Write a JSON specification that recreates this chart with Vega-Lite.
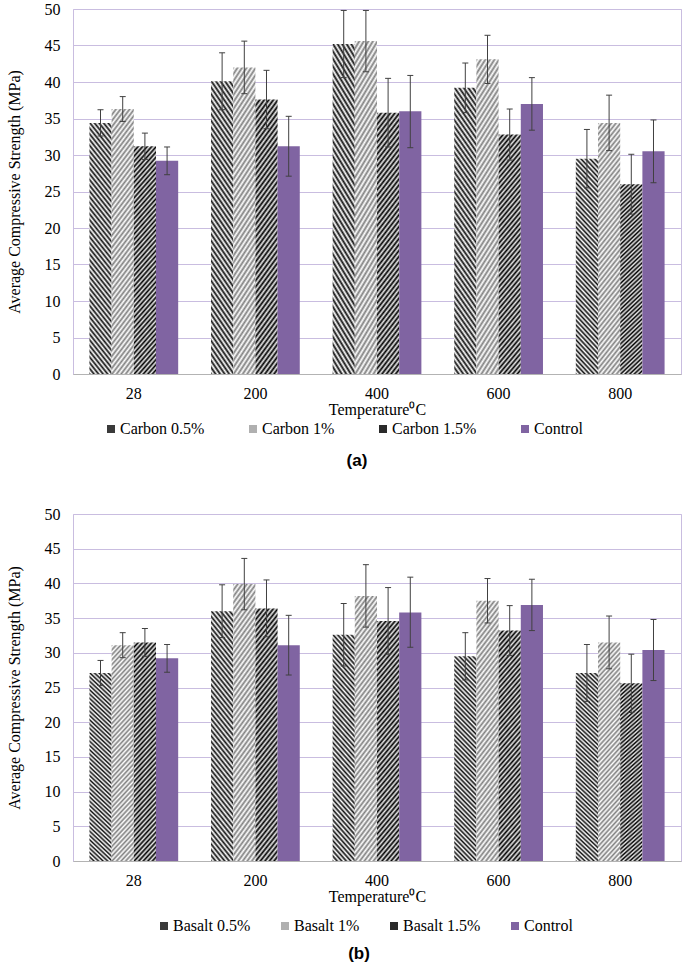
{
"$schema": "https://vega.github.io/schema/vega-lite/v6.json",
"padding": {"left": 5, "top": 0, "right": 0, "bottom": 0},
"spacing": 35,
"resolve": {"scale": {"x": "independent", "xOffset": "independent", "y": "independent", "color": "independent"}, "legend": {"color": "independent"}},
"config": {
 "view": {"stroke": "#c9bde0", "strokeWidth": 1},
 "font": "Liberation Serif",
 "style": {"guide-label": {"font": "Liberation Serif", "fontSize": 16, "fill": "#000"}, "guide-title": {"font": "Liberation Serif", "fontSize": 16, "fill": "#000", "fontWeight": "normal"}},
 "axis": {"labelFont": "Liberation Serif", "labelFontSize": 16, "labelColor": "#000", "titleFont": "Liberation Serif", "titleFontSize": 16, "titleFontWeight": "normal", "titleColor": "#000", "ticks": false, "gridColor": "#c9bde0", "gridOpacity": 1},
 "axisY": {"domain": false, "labelPadding": 13, "titlePadding": 22},
 "axisX": {"domainColor": "#b3b3b3", "labelAngle": 0, "labelPadding": 11, "titlePadding": 0, "grid": false},
 "legend": {"orient": "none", "direction": "horizontal", "columns": 4, "labelFont": "Liberation Serif", "labelFontSize": 16, "labelColor": "#000", "symbolType": "square", "symbolSize": 64, "symbolStrokeWidth": 0, "symbolOpacity": 1, "labelOffset": 1, "labelLimit": 200},
 "title": {"font": "Liberation Sans", "fontSize": 17, "fontWeight": "bold", "color": "#000"}
},
"vconcat": [
 {
  "width": 608, "height": 365,
  "title": {"text": "(a)", "orient": "bottom", "anchor": "middle", "offset": 16, "dx": -20},
  "data": {"values": [
   {"t":28,"s":"Carbon 0.5%","v":34.4,"lo":32.6,"hi":36.2},
   {"t":28,"s":"Carbon 1%","v":36.3,"lo":34.6,"hi":38.0},
   {"t":28,"s":"Carbon 1.5%","v":31.2,"lo":29.4,"hi":33.0},
   {"t":28,"s":"Control","v":29.2,"lo":27.3,"hi":31.1},
   {"t":200,"s":"Carbon 0.5%","v":40.1,"lo":36.2,"hi":44.0},
   {"t":200,"s":"Carbon 1%","v":42.0,"lo":38.4,"hi":45.6},
   {"t":200,"s":"Carbon 1.5%","v":37.6,"lo":33.6,"hi":41.6},
   {"t":200,"s":"Control","v":31.2,"lo":27.1,"hi":35.3},
   {"t":400,"s":"Carbon 0.5%","v":45.2,"lo":40.6,"hi":49.8},
   {"t":400,"s":"Carbon 1%","v":45.6,"lo":41.4,"hi":49.8},
   {"t":400,"s":"Carbon 1.5%","v":35.8,"lo":31.1,"hi":40.5},
   {"t":400,"s":"Control","v":36.0,"lo":31.0,"hi":40.9},
   {"t":600,"s":"Carbon 0.5%","v":39.2,"lo":35.8,"hi":42.6},
   {"t":600,"s":"Carbon 1%","v":43.1,"lo":39.8,"hi":46.4},
   {"t":600,"s":"Carbon 1.5%","v":32.8,"lo":29.3,"hi":36.3},
   {"t":600,"s":"Control","v":37.0,"lo":33.4,"hi":40.6},
   {"t":800,"s":"Carbon 0.5%","v":29.5,"lo":25.5,"hi":33.5},
   {"t":800,"s":"Carbon 1%","v":34.4,"lo":30.6,"hi":38.2},
   {"t":800,"s":"Carbon 1.5%","v":26.0,"lo":21.9,"hi":30.1},
   {"t":800,"s":"Control","v":30.5,"lo":26.2,"hi":34.8}
  ]},
  "encoding": {
   "x": {"field": "t", "type": "ordinal", "title": "Temperature⁰C", "scale": {"paddingInner": 0.27, "paddingOuter": 0.135}, "axis": {"labelFont": "Liberation Serif", "labelFontSize": 16, "labelColor": "#000"}},
   "xOffset": {"field": "s", "type": "nominal", "scale": {"domain": ["Carbon 0.5%", "Carbon 1%", "Carbon 1.5%", "Control"], "paddingInner": 0, "paddingOuter": 0}},
   "y": {"field": "v", "type": "quantitative", "title": "Average Compressive Strength (MPa)", "scale": {"domain": [0, 50], "nice": false}, "axis": {"values": [0,5,10,15,20,25,30,35,40,45,50], "labelFont": "Liberation Serif", "labelFontSize": 16, "labelColor": "#000"}}
  },
  "layer": [
   {"transform": [{"filter": "datum.s == 'Carbon 0.5%'"}], "mark": {"type": "bar", "fill": {"gradient": "linear", "x1": 0, "y1": 1, "x2": 1, "y2": -8, "stops": [
{"offset":0,"color":"#111"},{"offset":0.00125,"color":"#fff"},{"offset":0.0025,"color":"#111"},{"offset":0.00375,"color":"#fff"},{"offset":0.005,"color":"#111"},{"offset":0.00625,"color":"#fff"},{"offset":0.0075,"color":"#111"},{"offset":0.00875,"color":"#fff"},
{"offset":0.01,"color":"#111"},{"offset":0.01125,"color":"#fff"},{"offset":0.0125,"color":"#111"},{"offset":0.01375,"color":"#fff"},{"offset":0.015,"color":"#111"},{"offset":0.01625,"color":"#fff"},{"offset":0.0175,"color":"#111"},{"offset":0.01875,"color":"#fff"},
{"offset":0.02,"color":"#111"},{"offset":0.02125,"color":"#fff"},{"offset":0.0225,"color":"#111"},{"offset":0.02375,"color":"#fff"},{"offset":0.025,"color":"#111"},{"offset":0.02625,"color":"#fff"},{"offset":0.0275,"color":"#111"},{"offset":0.02875,"color":"#fff"},
{"offset":0.03,"color":"#111"},{"offset":0.03125,"color":"#fff"},{"offset":0.0325,"color":"#111"},{"offset":0.03375,"color":"#fff"},{"offset":0.035,"color":"#111"},{"offset":0.03625,"color":"#fff"},{"offset":0.0375,"color":"#111"},{"offset":0.03875,"color":"#fff"},
{"offset":0.04,"color":"#111"},{"offset":0.04125,"color":"#fff"},{"offset":0.0425,"color":"#111"},{"offset":0.04375,"color":"#fff"},{"offset":0.045,"color":"#111"},{"offset":0.04625,"color":"#fff"},{"offset":0.0475,"color":"#111"},{"offset":0.04875,"color":"#fff"},
{"offset":0.05,"color":"#111"},{"offset":0.05125,"color":"#fff"},{"offset":0.0525,"color":"#111"},{"offset":0.05375,"color":"#fff"},{"offset":0.055,"color":"#111"},{"offset":0.05625,"color":"#fff"},{"offset":0.0575,"color":"#111"},{"offset":0.05875,"color":"#fff"},
{"offset":0.06,"color":"#111"},{"offset":0.06125,"color":"#fff"},{"offset":0.0625,"color":"#111"},{"offset":0.06375,"color":"#fff"},{"offset":0.065,"color":"#111"},{"offset":0.06625,"color":"#fff"},{"offset":0.0675,"color":"#111"},{"offset":0.06875,"color":"#fff"},
{"offset":0.07,"color":"#111"},{"offset":0.07125,"color":"#fff"},{"offset":0.0725,"color":"#111"},{"offset":0.07375,"color":"#fff"},{"offset":0.075,"color":"#111"},{"offset":0.07625,"color":"#fff"},{"offset":0.0775,"color":"#111"},{"offset":0.07875,"color":"#fff"},
{"offset":0.08,"color":"#111"},{"offset":0.08125,"color":"#fff"},{"offset":0.0825,"color":"#111"},{"offset":0.08375,"color":"#fff"},{"offset":0.085,"color":"#111"},{"offset":0.08625,"color":"#fff"},{"offset":0.0875,"color":"#111"},{"offset":0.08875,"color":"#fff"},
{"offset":0.09,"color":"#111"},{"offset":0.09125,"color":"#fff"},{"offset":0.0925,"color":"#111"},{"offset":0.09375,"color":"#fff"},{"offset":0.095,"color":"#111"},{"offset":0.09625,"color":"#fff"},{"offset":0.0975,"color":"#111"},{"offset":0.09875,"color":"#fff"},
{"offset":0.1,"color":"#111"},{"offset":0.10125,"color":"#fff"},{"offset":0.1025,"color":"#111"},{"offset":0.10375,"color":"#fff"},{"offset":0.105,"color":"#111"},{"offset":0.10625,"color":"#fff"},{"offset":0.1075,"color":"#111"},{"offset":0.10875,"color":"#fff"},
{"offset":0.11,"color":"#111"},{"offset":0.11125,"color":"#fff"},{"offset":0.1125,"color":"#111"},{"offset":0.11375,"color":"#fff"},{"offset":0.115,"color":"#111"},{"offset":0.11625,"color":"#fff"},{"offset":0.1175,"color":"#111"},{"offset":0.11875,"color":"#fff"},
{"offset":0.12,"color":"#111"},{"offset":0.12125,"color":"#fff"},{"offset":0.1225,"color":"#111"}
   ]}}},
   {"transform": [{"filter": "datum.s == 'Carbon 1%'"}], "mark": {"type": "bar", "fill": {"gradient": "linear", "x1": 0, "y1": 0, "x2": 1, "y2": 9, "stops": [
{"offset":0,"color":"#808080"},{"offset":0.00125,"color":"#fff"},{"offset":0.0025,"color":"#808080"},{"offset":0.00375,"color":"#fff"},{"offset":0.005,"color":"#808080"},{"offset":0.00625,"color":"#fff"},{"offset":0.0075,"color":"#808080"},{"offset":0.00875,"color":"#fff"},
{"offset":0.01,"color":"#808080"},{"offset":0.01125,"color":"#fff"},{"offset":0.0125,"color":"#808080"},{"offset":0.01375,"color":"#fff"},{"offset":0.015,"color":"#808080"},{"offset":0.01625,"color":"#fff"},{"offset":0.0175,"color":"#808080"},{"offset":0.01875,"color":"#fff"},
{"offset":0.02,"color":"#808080"},{"offset":0.02125,"color":"#fff"},{"offset":0.0225,"color":"#808080"},{"offset":0.02375,"color":"#fff"},{"offset":0.025,"color":"#808080"},{"offset":0.02625,"color":"#fff"},{"offset":0.0275,"color":"#808080"},{"offset":0.02875,"color":"#fff"},
{"offset":0.03,"color":"#808080"},{"offset":0.03125,"color":"#fff"},{"offset":0.0325,"color":"#808080"},{"offset":0.03375,"color":"#fff"},{"offset":0.035,"color":"#808080"},{"offset":0.03625,"color":"#fff"},{"offset":0.0375,"color":"#808080"},{"offset":0.03875,"color":"#fff"},
{"offset":0.04,"color":"#808080"},{"offset":0.04125,"color":"#fff"},{"offset":0.0425,"color":"#808080"},{"offset":0.04375,"color":"#fff"},{"offset":0.045,"color":"#808080"},{"offset":0.04625,"color":"#fff"},{"offset":0.0475,"color":"#808080"},{"offset":0.04875,"color":"#fff"},
{"offset":0.05,"color":"#808080"},{"offset":0.05125,"color":"#fff"},{"offset":0.0525,"color":"#808080"},{"offset":0.05375,"color":"#fff"},{"offset":0.055,"color":"#808080"},{"offset":0.05625,"color":"#fff"},{"offset":0.0575,"color":"#808080"},{"offset":0.05875,"color":"#fff"},
{"offset":0.06,"color":"#808080"},{"offset":0.06125,"color":"#fff"},{"offset":0.0625,"color":"#808080"},{"offset":0.06375,"color":"#fff"},{"offset":0.065,"color":"#808080"},{"offset":0.06625,"color":"#fff"},{"offset":0.0675,"color":"#808080"},{"offset":0.06875,"color":"#fff"},
{"offset":0.07,"color":"#808080"},{"offset":0.07125,"color":"#fff"},{"offset":0.0725,"color":"#808080"},{"offset":0.07375,"color":"#fff"},{"offset":0.075,"color":"#808080"},{"offset":0.07625,"color":"#fff"},{"offset":0.0775,"color":"#808080"},{"offset":0.07875,"color":"#fff"},
{"offset":0.08,"color":"#808080"},{"offset":0.08125,"color":"#fff"},{"offset":0.0825,"color":"#808080"},{"offset":0.08375,"color":"#fff"},{"offset":0.085,"color":"#808080"},{"offset":0.08625,"color":"#fff"},{"offset":0.0875,"color":"#808080"},{"offset":0.08875,"color":"#fff"},
{"offset":0.09,"color":"#808080"},{"offset":0.09125,"color":"#fff"},{"offset":0.0925,"color":"#808080"},{"offset":0.09375,"color":"#fff"},{"offset":0.095,"color":"#808080"},{"offset":0.09625,"color":"#fff"},{"offset":0.0975,"color":"#808080"},{"offset":0.09875,"color":"#fff"},
{"offset":0.1,"color":"#808080"},{"offset":0.10125,"color":"#fff"},{"offset":0.1025,"color":"#808080"},{"offset":0.10375,"color":"#fff"},{"offset":0.105,"color":"#808080"},{"offset":0.10625,"color":"#fff"},{"offset":0.1075,"color":"#808080"},{"offset":0.10875,"color":"#fff"},
{"offset":0.11,"color":"#808080"},{"offset":0.11125,"color":"#fff"},{"offset":0.1125,"color":"#808080"},{"offset":0.11375,"color":"#fff"},{"offset":0.115,"color":"#808080"},{"offset":0.11625,"color":"#fff"},{"offset":0.1175,"color":"#808080"},{"offset":0.11875,"color":"#fff"},
{"offset":0.12,"color":"#808080"},{"offset":0.12125,"color":"#fff"},{"offset":0.1225,"color":"#808080"}
   ]}}},
   {"transform": [{"filter": "datum.s == 'Carbon 1.5%'"}], "mark": {"type": "bar", "fill": {"gradient": "linear", "x1": 0, "y1": 0, "x2": 1, "y2": 9, "stops": [
{"offset":0,"color":"#000"},{"offset":0.00125,"color":"#e8e8e8"},{"offset":0.0025,"color":"#000"},{"offset":0.00375,"color":"#e8e8e8"},{"offset":0.005,"color":"#000"},{"offset":0.00625,"color":"#e8e8e8"},{"offset":0.0075,"color":"#000"},{"offset":0.00875,"color":"#e8e8e8"},
{"offset":0.01,"color":"#000"},{"offset":0.01125,"color":"#e8e8e8"},{"offset":0.0125,"color":"#000"},{"offset":0.01375,"color":"#e8e8e8"},{"offset":0.015,"color":"#000"},{"offset":0.01625,"color":"#e8e8e8"},{"offset":0.0175,"color":"#000"},{"offset":0.01875,"color":"#e8e8e8"},
{"offset":0.02,"color":"#000"},{"offset":0.02125,"color":"#e8e8e8"},{"offset":0.0225,"color":"#000"},{"offset":0.02375,"color":"#e8e8e8"},{"offset":0.025,"color":"#000"},{"offset":0.02625,"color":"#e8e8e8"},{"offset":0.0275,"color":"#000"},{"offset":0.02875,"color":"#e8e8e8"},
{"offset":0.03,"color":"#000"},{"offset":0.03125,"color":"#e8e8e8"},{"offset":0.0325,"color":"#000"},{"offset":0.03375,"color":"#e8e8e8"},{"offset":0.035,"color":"#000"},{"offset":0.03625,"color":"#e8e8e8"},{"offset":0.0375,"color":"#000"},{"offset":0.03875,"color":"#e8e8e8"},
{"offset":0.04,"color":"#000"},{"offset":0.04125,"color":"#e8e8e8"},{"offset":0.0425,"color":"#000"},{"offset":0.04375,"color":"#e8e8e8"},{"offset":0.045,"color":"#000"},{"offset":0.04625,"color":"#e8e8e8"},{"offset":0.0475,"color":"#000"},{"offset":0.04875,"color":"#e8e8e8"},
{"offset":0.05,"color":"#000"},{"offset":0.05125,"color":"#e8e8e8"},{"offset":0.0525,"color":"#000"},{"offset":0.05375,"color":"#e8e8e8"},{"offset":0.055,"color":"#000"},{"offset":0.05625,"color":"#e8e8e8"},{"offset":0.0575,"color":"#000"},{"offset":0.05875,"color":"#e8e8e8"},
{"offset":0.06,"color":"#000"},{"offset":0.06125,"color":"#e8e8e8"},{"offset":0.0625,"color":"#000"},{"offset":0.06375,"color":"#e8e8e8"},{"offset":0.065,"color":"#000"},{"offset":0.06625,"color":"#e8e8e8"},{"offset":0.0675,"color":"#000"},{"offset":0.06875,"color":"#e8e8e8"},
{"offset":0.07,"color":"#000"},{"offset":0.07125,"color":"#e8e8e8"},{"offset":0.0725,"color":"#000"},{"offset":0.07375,"color":"#e8e8e8"},{"offset":0.075,"color":"#000"},{"offset":0.07625,"color":"#e8e8e8"},{"offset":0.0775,"color":"#000"},{"offset":0.07875,"color":"#e8e8e8"},
{"offset":0.08,"color":"#000"},{"offset":0.08125,"color":"#e8e8e8"},{"offset":0.0825,"color":"#000"},{"offset":0.08375,"color":"#e8e8e8"},{"offset":0.085,"color":"#000"},{"offset":0.08625,"color":"#e8e8e8"},{"offset":0.0875,"color":"#000"},{"offset":0.08875,"color":"#e8e8e8"},
{"offset":0.09,"color":"#000"},{"offset":0.09125,"color":"#e8e8e8"},{"offset":0.0925,"color":"#000"},{"offset":0.09375,"color":"#e8e8e8"},{"offset":0.095,"color":"#000"},{"offset":0.09625,"color":"#e8e8e8"},{"offset":0.0975,"color":"#000"},{"offset":0.09875,"color":"#e8e8e8"},
{"offset":0.1,"color":"#000"},{"offset":0.10125,"color":"#e8e8e8"},{"offset":0.1025,"color":"#000"},{"offset":0.10375,"color":"#e8e8e8"},{"offset":0.105,"color":"#000"},{"offset":0.10625,"color":"#e8e8e8"},{"offset":0.1075,"color":"#000"},{"offset":0.10875,"color":"#e8e8e8"},
{"offset":0.11,"color":"#000"},{"offset":0.11125,"color":"#e8e8e8"},{"offset":0.1125,"color":"#000"},{"offset":0.11375,"color":"#e8e8e8"},{"offset":0.115,"color":"#000"},{"offset":0.11625,"color":"#e8e8e8"},{"offset":0.1175,"color":"#000"},{"offset":0.11875,"color":"#e8e8e8"},
{"offset":0.12,"color":"#000"},{"offset":0.12125,"color":"#e8e8e8"},{"offset":0.1225,"color":"#000"}
   ]}}},
   {"transform": [{"filter": "datum.s == 'Control'"}], "mark": {"type": "bar", "fill": "#8064A2"}},
   {"mark": {"type": "square", "opacity": 0}, "encoding": {"color": {"field": "s", "type": "nominal", "scale": {"domain": ["Carbon 0.5%", "Carbon 1%", "Carbon 1.5%", "Control"], "range": ["#3a3a3a", "#b0b0b0", "#2a2a2a", "#8064A2"]}, "legend": {"title": null, "legendX": 30, "legendY": 412, "columnPadding": 40, "labelFont": "Liberation Serif", "labelFontSize": 16, "labelColor": "#000"}}}},
   {"mark": {"type": "rule", "color": "#404040", "strokeWidth": 1}, "encoding": {"y": {"field": "lo", "type": "quantitative", "title": "Average Compressive Strength (MPa)"}, "y2": {"field": "hi"}}},
   {"mark": {"type": "tick", "orient": "horizontal", "color": "#404040", "size": 6, "thickness": 1, "opacity": 1}, "encoding": {"y": {"field": "hi", "type": "quantitative", "title": "Average Compressive Strength (MPa)"}}},
   {"mark": {"type": "tick", "orient": "horizontal", "color": "#404040", "size": 6, "thickness": 1, "opacity": 1}, "encoding": {"y": {"field": "lo", "type": "quantitative", "title": "Average Compressive Strength (MPa)"}}}
  ]
 },
 {
  "width": 608, "height": 347,
  "title": {"text": "(b)", "orient": "bottom", "anchor": "middle", "offset": 12, "dx": -18},
  "data": {"values": [
   {"t":28,"s":"Basalt 0.5%","v":27.1,"lo":25.3,"hi":28.9},
   {"t":28,"s":"Basalt 1%","v":31.1,"lo":29.3,"hi":32.9},
   {"t":28,"s":"Basalt 1.5%","v":31.5,"lo":29.5,"hi":33.5},
   {"t":28,"s":"Control","v":29.2,"lo":27.2,"hi":31.2},
   {"t":200,"s":"Basalt 0.5%","v":36.0,"lo":32.2,"hi":39.8},
   {"t":200,"s":"Basalt 1%","v":39.9,"lo":36.2,"hi":43.6},
   {"t":200,"s":"Basalt 1.5%","v":36.4,"lo":32.3,"hi":40.5},
   {"t":200,"s":"Control","v":31.1,"lo":26.8,"hi":35.4},
   {"t":400,"s":"Basalt 0.5%","v":32.6,"lo":28.1,"hi":37.1},
   {"t":400,"s":"Basalt 1%","v":38.2,"lo":33.7,"hi":42.7},
   {"t":400,"s":"Basalt 1.5%","v":34.6,"lo":29.8,"hi":39.4},
   {"t":400,"s":"Control","v":35.8,"lo":30.8,"hi":40.9},
   {"t":600,"s":"Basalt 0.5%","v":29.5,"lo":26.1,"hi":32.9},
   {"t":600,"s":"Basalt 1%","v":37.5,"lo":34.3,"hi":40.7},
   {"t":600,"s":"Basalt 1.5%","v":33.2,"lo":29.6,"hi":36.8},
   {"t":600,"s":"Control","v":36.9,"lo":33.2,"hi":40.6},
   {"t":800,"s":"Basalt 0.5%","v":27.1,"lo":23.0,"hi":31.2},
   {"t":800,"s":"Basalt 1%","v":31.5,"lo":27.7,"hi":35.3},
   {"t":800,"s":"Basalt 1.5%","v":25.6,"lo":21.4,"hi":29.8},
   {"t":800,"s":"Control","v":30.4,"lo":26.0,"hi":34.8}
  ]},
  "encoding": {
   "x": {"field": "t", "type": "ordinal", "title": "Temperature⁰C", "scale": {"paddingInner": 0.27, "paddingOuter": 0.135}, "axis": {"labelFont": "Liberation Serif", "labelFontSize": 16, "labelColor": "#000"}},
   "xOffset": {"field": "s", "type": "nominal", "scale": {"domain": ["Basalt 0.5%", "Basalt 1%", "Basalt 1.5%", "Control"], "paddingInner": 0, "paddingOuter": 0}},
   "y": {"field": "v", "type": "quantitative", "title": "Average Compressive Strength (MPa)", "scale": {"domain": [0, 50], "nice": false}, "axis": {"values": [0,5,10,15,20,25,30,35,40,45,50], "labelFont": "Liberation Serif", "labelFontSize": 16, "labelColor": "#000"}}
  },
  "layer": [
   {"transform": [{"filter": "datum.s == 'Basalt 0.5%'"}], "mark": {"type": "bar", "fill": {"gradient": "linear", "x1": 0, "y1": 1, "x2": 1, "y2": -8, "stops": [
{"offset":0,"color":"#111"},{"offset":0.00125,"color":"#fff"},{"offset":0.0025,"color":"#111"},{"offset":0.00375,"color":"#fff"},{"offset":0.005,"color":"#111"},{"offset":0.00625,"color":"#fff"},{"offset":0.0075,"color":"#111"},{"offset":0.00875,"color":"#fff"},
{"offset":0.01,"color":"#111"},{"offset":0.01125,"color":"#fff"},{"offset":0.0125,"color":"#111"},{"offset":0.01375,"color":"#fff"},{"offset":0.015,"color":"#111"},{"offset":0.01625,"color":"#fff"},{"offset":0.0175,"color":"#111"},{"offset":0.01875,"color":"#fff"},
{"offset":0.02,"color":"#111"},{"offset":0.02125,"color":"#fff"},{"offset":0.0225,"color":"#111"},{"offset":0.02375,"color":"#fff"},{"offset":0.025,"color":"#111"},{"offset":0.02625,"color":"#fff"},{"offset":0.0275,"color":"#111"},{"offset":0.02875,"color":"#fff"},
{"offset":0.03,"color":"#111"},{"offset":0.03125,"color":"#fff"},{"offset":0.0325,"color":"#111"},{"offset":0.03375,"color":"#fff"},{"offset":0.035,"color":"#111"},{"offset":0.03625,"color":"#fff"},{"offset":0.0375,"color":"#111"},{"offset":0.03875,"color":"#fff"},
{"offset":0.04,"color":"#111"},{"offset":0.04125,"color":"#fff"},{"offset":0.0425,"color":"#111"},{"offset":0.04375,"color":"#fff"},{"offset":0.045,"color":"#111"},{"offset":0.04625,"color":"#fff"},{"offset":0.0475,"color":"#111"},{"offset":0.04875,"color":"#fff"},
{"offset":0.05,"color":"#111"},{"offset":0.05125,"color":"#fff"},{"offset":0.0525,"color":"#111"},{"offset":0.05375,"color":"#fff"},{"offset":0.055,"color":"#111"},{"offset":0.05625,"color":"#fff"},{"offset":0.0575,"color":"#111"},{"offset":0.05875,"color":"#fff"},
{"offset":0.06,"color":"#111"},{"offset":0.06125,"color":"#fff"},{"offset":0.0625,"color":"#111"},{"offset":0.06375,"color":"#fff"},{"offset":0.065,"color":"#111"},{"offset":0.06625,"color":"#fff"},{"offset":0.0675,"color":"#111"},{"offset":0.06875,"color":"#fff"},
{"offset":0.07,"color":"#111"},{"offset":0.07125,"color":"#fff"},{"offset":0.0725,"color":"#111"},{"offset":0.07375,"color":"#fff"},{"offset":0.075,"color":"#111"},{"offset":0.07625,"color":"#fff"},{"offset":0.0775,"color":"#111"},{"offset":0.07875,"color":"#fff"},
{"offset":0.08,"color":"#111"},{"offset":0.08125,"color":"#fff"},{"offset":0.0825,"color":"#111"},{"offset":0.08375,"color":"#fff"},{"offset":0.085,"color":"#111"},{"offset":0.08625,"color":"#fff"},{"offset":0.0875,"color":"#111"},{"offset":0.08875,"color":"#fff"},
{"offset":0.09,"color":"#111"},{"offset":0.09125,"color":"#fff"},{"offset":0.0925,"color":"#111"},{"offset":0.09375,"color":"#fff"},{"offset":0.095,"color":"#111"},{"offset":0.09625,"color":"#fff"},{"offset":0.0975,"color":"#111"},{"offset":0.09875,"color":"#fff"},
{"offset":0.1,"color":"#111"},{"offset":0.10125,"color":"#fff"},{"offset":0.1025,"color":"#111"},{"offset":0.10375,"color":"#fff"},{"offset":0.105,"color":"#111"},{"offset":0.10625,"color":"#fff"},{"offset":0.1075,"color":"#111"},{"offset":0.10875,"color":"#fff"},
{"offset":0.11,"color":"#111"},{"offset":0.11125,"color":"#fff"},{"offset":0.1125,"color":"#111"},{"offset":0.11375,"color":"#fff"},{"offset":0.115,"color":"#111"},{"offset":0.11625,"color":"#fff"},{"offset":0.1175,"color":"#111"},{"offset":0.11875,"color":"#fff"},
{"offset":0.12,"color":"#111"},{"offset":0.12125,"color":"#fff"},{"offset":0.1225,"color":"#111"}
   ]}}},
   {"transform": [{"filter": "datum.s == 'Basalt 1%'"}], "mark": {"type": "bar", "fill": {"gradient": "linear", "x1": 0, "y1": 0, "x2": 1, "y2": 9, "stops": [
{"offset":0,"color":"#808080"},{"offset":0.00125,"color":"#fff"},{"offset":0.0025,"color":"#808080"},{"offset":0.00375,"color":"#fff"},{"offset":0.005,"color":"#808080"},{"offset":0.00625,"color":"#fff"},{"offset":0.0075,"color":"#808080"},{"offset":0.00875,"color":"#fff"},
{"offset":0.01,"color":"#808080"},{"offset":0.01125,"color":"#fff"},{"offset":0.0125,"color":"#808080"},{"offset":0.01375,"color":"#fff"},{"offset":0.015,"color":"#808080"},{"offset":0.01625,"color":"#fff"},{"offset":0.0175,"color":"#808080"},{"offset":0.01875,"color":"#fff"},
{"offset":0.02,"color":"#808080"},{"offset":0.02125,"color":"#fff"},{"offset":0.0225,"color":"#808080"},{"offset":0.02375,"color":"#fff"},{"offset":0.025,"color":"#808080"},{"offset":0.02625,"color":"#fff"},{"offset":0.0275,"color":"#808080"},{"offset":0.02875,"color":"#fff"},
{"offset":0.03,"color":"#808080"},{"offset":0.03125,"color":"#fff"},{"offset":0.0325,"color":"#808080"},{"offset":0.03375,"color":"#fff"},{"offset":0.035,"color":"#808080"},{"offset":0.03625,"color":"#fff"},{"offset":0.0375,"color":"#808080"},{"offset":0.03875,"color":"#fff"},
{"offset":0.04,"color":"#808080"},{"offset":0.04125,"color":"#fff"},{"offset":0.0425,"color":"#808080"},{"offset":0.04375,"color":"#fff"},{"offset":0.045,"color":"#808080"},{"offset":0.04625,"color":"#fff"},{"offset":0.0475,"color":"#808080"},{"offset":0.04875,"color":"#fff"},
{"offset":0.05,"color":"#808080"},{"offset":0.05125,"color":"#fff"},{"offset":0.0525,"color":"#808080"},{"offset":0.05375,"color":"#fff"},{"offset":0.055,"color":"#808080"},{"offset":0.05625,"color":"#fff"},{"offset":0.0575,"color":"#808080"},{"offset":0.05875,"color":"#fff"},
{"offset":0.06,"color":"#808080"},{"offset":0.06125,"color":"#fff"},{"offset":0.0625,"color":"#808080"},{"offset":0.06375,"color":"#fff"},{"offset":0.065,"color":"#808080"},{"offset":0.06625,"color":"#fff"},{"offset":0.0675,"color":"#808080"},{"offset":0.06875,"color":"#fff"},
{"offset":0.07,"color":"#808080"},{"offset":0.07125,"color":"#fff"},{"offset":0.0725,"color":"#808080"},{"offset":0.07375,"color":"#fff"},{"offset":0.075,"color":"#808080"},{"offset":0.07625,"color":"#fff"},{"offset":0.0775,"color":"#808080"},{"offset":0.07875,"color":"#fff"},
{"offset":0.08,"color":"#808080"},{"offset":0.08125,"color":"#fff"},{"offset":0.0825,"color":"#808080"},{"offset":0.08375,"color":"#fff"},{"offset":0.085,"color":"#808080"},{"offset":0.08625,"color":"#fff"},{"offset":0.0875,"color":"#808080"},{"offset":0.08875,"color":"#fff"},
{"offset":0.09,"color":"#808080"},{"offset":0.09125,"color":"#fff"},{"offset":0.0925,"color":"#808080"},{"offset":0.09375,"color":"#fff"},{"offset":0.095,"color":"#808080"},{"offset":0.09625,"color":"#fff"},{"offset":0.0975,"color":"#808080"},{"offset":0.09875,"color":"#fff"},
{"offset":0.1,"color":"#808080"},{"offset":0.10125,"color":"#fff"},{"offset":0.1025,"color":"#808080"},{"offset":0.10375,"color":"#fff"},{"offset":0.105,"color":"#808080"},{"offset":0.10625,"color":"#fff"},{"offset":0.1075,"color":"#808080"},{"offset":0.10875,"color":"#fff"},
{"offset":0.11,"color":"#808080"},{"offset":0.11125,"color":"#fff"},{"offset":0.1125,"color":"#808080"},{"offset":0.11375,"color":"#fff"},{"offset":0.115,"color":"#808080"},{"offset":0.11625,"color":"#fff"},{"offset":0.1175,"color":"#808080"},{"offset":0.11875,"color":"#fff"},
{"offset":0.12,"color":"#808080"},{"offset":0.12125,"color":"#fff"},{"offset":0.1225,"color":"#808080"}
   ]}}},
   {"transform": [{"filter": "datum.s == 'Basalt 1.5%'"}], "mark": {"type": "bar", "fill": {"gradient": "linear", "x1": 0, "y1": 0, "x2": 1, "y2": 9, "stops": [
{"offset":0,"color":"#000"},{"offset":0.00125,"color":"#e8e8e8"},{"offset":0.0025,"color":"#000"},{"offset":0.00375,"color":"#e8e8e8"},{"offset":0.005,"color":"#000"},{"offset":0.00625,"color":"#e8e8e8"},{"offset":0.0075,"color":"#000"},{"offset":0.00875,"color":"#e8e8e8"},
{"offset":0.01,"color":"#000"},{"offset":0.01125,"color":"#e8e8e8"},{"offset":0.0125,"color":"#000"},{"offset":0.01375,"color":"#e8e8e8"},{"offset":0.015,"color":"#000"},{"offset":0.01625,"color":"#e8e8e8"},{"offset":0.0175,"color":"#000"},{"offset":0.01875,"color":"#e8e8e8"},
{"offset":0.02,"color":"#000"},{"offset":0.02125,"color":"#e8e8e8"},{"offset":0.0225,"color":"#000"},{"offset":0.02375,"color":"#e8e8e8"},{"offset":0.025,"color":"#000"},{"offset":0.02625,"color":"#e8e8e8"},{"offset":0.0275,"color":"#000"},{"offset":0.02875,"color":"#e8e8e8"},
{"offset":0.03,"color":"#000"},{"offset":0.03125,"color":"#e8e8e8"},{"offset":0.0325,"color":"#000"},{"offset":0.03375,"color":"#e8e8e8"},{"offset":0.035,"color":"#000"},{"offset":0.03625,"color":"#e8e8e8"},{"offset":0.0375,"color":"#000"},{"offset":0.03875,"color":"#e8e8e8"},
{"offset":0.04,"color":"#000"},{"offset":0.04125,"color":"#e8e8e8"},{"offset":0.0425,"color":"#000"},{"offset":0.04375,"color":"#e8e8e8"},{"offset":0.045,"color":"#000"},{"offset":0.04625,"color":"#e8e8e8"},{"offset":0.0475,"color":"#000"},{"offset":0.04875,"color":"#e8e8e8"},
{"offset":0.05,"color":"#000"},{"offset":0.05125,"color":"#e8e8e8"},{"offset":0.0525,"color":"#000"},{"offset":0.05375,"color":"#e8e8e8"},{"offset":0.055,"color":"#000"},{"offset":0.05625,"color":"#e8e8e8"},{"offset":0.0575,"color":"#000"},{"offset":0.05875,"color":"#e8e8e8"},
{"offset":0.06,"color":"#000"},{"offset":0.06125,"color":"#e8e8e8"},{"offset":0.0625,"color":"#000"},{"offset":0.06375,"color":"#e8e8e8"},{"offset":0.065,"color":"#000"},{"offset":0.06625,"color":"#e8e8e8"},{"offset":0.0675,"color":"#000"},{"offset":0.06875,"color":"#e8e8e8"},
{"offset":0.07,"color":"#000"},{"offset":0.07125,"color":"#e8e8e8"},{"offset":0.0725,"color":"#000"},{"offset":0.07375,"color":"#e8e8e8"},{"offset":0.075,"color":"#000"},{"offset":0.07625,"color":"#e8e8e8"},{"offset":0.0775,"color":"#000"},{"offset":0.07875,"color":"#e8e8e8"},
{"offset":0.08,"color":"#000"},{"offset":0.08125,"color":"#e8e8e8"},{"offset":0.0825,"color":"#000"},{"offset":0.08375,"color":"#e8e8e8"},{"offset":0.085,"color":"#000"},{"offset":0.08625,"color":"#e8e8e8"},{"offset":0.0875,"color":"#000"},{"offset":0.08875,"color":"#e8e8e8"},
{"offset":0.09,"color":"#000"},{"offset":0.09125,"color":"#e8e8e8"},{"offset":0.0925,"color":"#000"},{"offset":0.09375,"color":"#e8e8e8"},{"offset":0.095,"color":"#000"},{"offset":0.09625,"color":"#e8e8e8"},{"offset":0.0975,"color":"#000"},{"offset":0.09875,"color":"#e8e8e8"},
{"offset":0.1,"color":"#000"},{"offset":0.10125,"color":"#e8e8e8"},{"offset":0.1025,"color":"#000"},{"offset":0.10375,"color":"#e8e8e8"},{"offset":0.105,"color":"#000"},{"offset":0.10625,"color":"#e8e8e8"},{"offset":0.1075,"color":"#000"},{"offset":0.10875,"color":"#e8e8e8"},
{"offset":0.11,"color":"#000"},{"offset":0.11125,"color":"#e8e8e8"},{"offset":0.1125,"color":"#000"},{"offset":0.11375,"color":"#e8e8e8"},{"offset":0.115,"color":"#000"},{"offset":0.11625,"color":"#e8e8e8"},{"offset":0.1175,"color":"#000"},{"offset":0.11875,"color":"#e8e8e8"},
{"offset":0.12,"color":"#000"},{"offset":0.12125,"color":"#e8e8e8"},{"offset":0.1225,"color":"#000"}
   ]}}},
   {"transform": [{"filter": "datum.s == 'Control'"}], "mark": {"type": "bar", "fill": "#8064A2"}},
   {"mark": {"type": "square", "opacity": 0}, "encoding": {"color": {"field": "s", "type": "nominal", "scale": {"domain": ["Basalt 0.5%", "Basalt 1%", "Basalt 1.5%", "Control"], "range": ["#3a3a3a", "#b0b0b0", "#2a2a2a", "#8064A2"]}, "legend": {"title": null, "legendX": 83, "legendY": 404, "columnPadding": 26, "labelFont": "Liberation Serif", "labelFontSize": 16, "labelColor": "#000"}}}},
   {"mark": {"type": "rule", "color": "#404040", "strokeWidth": 1}, "encoding": {"y": {"field": "lo", "type": "quantitative", "title": "Average Compressive Strength (MPa)"}, "y2": {"field": "hi"}}},
   {"mark": {"type": "tick", "orient": "horizontal", "color": "#404040", "size": 6, "thickness": 1, "opacity": 1}, "encoding": {"y": {"field": "hi", "type": "quantitative", "title": "Average Compressive Strength (MPa)"}}},
   {"mark": {"type": "tick", "orient": "horizontal", "color": "#404040", "size": 6, "thickness": 1, "opacity": 1}, "encoding": {"y": {"field": "lo", "type": "quantitative", "title": "Average Compressive Strength (MPa)"}}}
  ]
 }
]
}
